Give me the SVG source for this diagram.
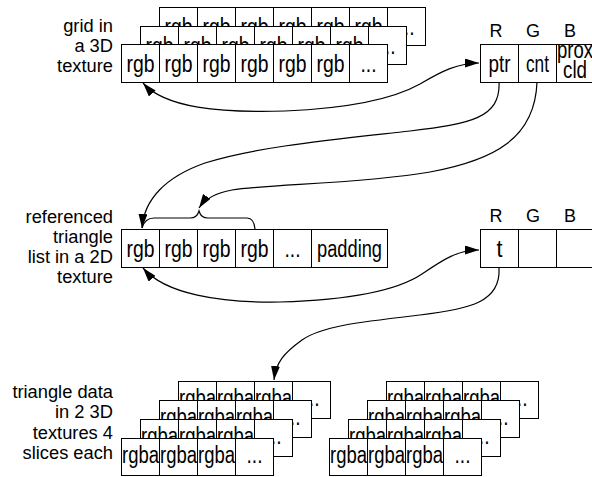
<svg xmlns="http://www.w3.org/2000/svg" width="592" height="477" viewBox="0 0 592 477">
<defs>
<style>
.c{fill:#fff;stroke:#000;stroke-width:1}
.t{font-family:"Liberation Sans",Arial,sans-serif;font-size:23px;fill:#000;text-anchor:middle}
.h{font-family:"Liberation Sans",Arial,sans-serif;font-size:18px;fill:#000;text-anchor:middle}
.l{font-family:"Liberation Sans",Arial,sans-serif;font-size:18.3px;fill:#000;text-anchor:end}
.k{fill:none;stroke:#000;stroke-width:1.2}
</style>
<marker id="ah" viewBox="0 0 14 9" refX="14" refY="4.5" markerWidth="14" markerHeight="9" markerUnits="userSpaceOnUse" orient="auto-start-reverse"><path d="M0,0 L14,4.5 L0,9 z" fill="#000"/></marker>
</defs>
<rect width="592" height="477" fill="#fff"/>

<g id="label-grid">
<text class="l" x="113" y="32">grid in</text>
<text class="l" x="113" y="52">a 3D</text>
<text class="l" x="113" y="72">texture</text>
</g>

<g id="grid-3d">
<g>
<rect class="c" x="159.5" y="7.5" width="38" height="38"/><rect class="c" x="197.5" y="7.5" width="38" height="38"/><rect class="c" x="235.5" y="7.5" width="38" height="38"/><rect class="c" x="273.5" y="7.5" width="38" height="38"/><rect class="c" x="311.5" y="7.5" width="38" height="38"/><rect class="c" x="349.5" y="7.5" width="38" height="38"/><rect class="c" x="387.5" y="7.5" width="38" height="38"/>
<text class="t" x="178.5" y="35" textLength="28" lengthAdjust="spacingAndGlyphs">rgb</text><text class="t" x="216.5" y="35" textLength="28" lengthAdjust="spacingAndGlyphs">rgb</text><text class="t" x="254.5" y="35" textLength="28" lengthAdjust="spacingAndGlyphs">rgb</text><text class="t" x="292.5" y="35" textLength="28" lengthAdjust="spacingAndGlyphs">rgb</text><text class="t" x="330.5" y="35" textLength="28" lengthAdjust="spacingAndGlyphs">rgb</text><text class="t" x="368.5" y="35" textLength="28" lengthAdjust="spacingAndGlyphs">rgb</text><text class="t" x="406.5" y="35" textLength="16" lengthAdjust="spacingAndGlyphs">...</text>
</g>
<g>
<rect class="c" x="140.5" y="26.5" width="38" height="38"/><rect class="c" x="178.5" y="26.5" width="38" height="38"/><rect class="c" x="216.5" y="26.5" width="38" height="38"/><rect class="c" x="254.5" y="26.5" width="38" height="38"/><rect class="c" x="292.5" y="26.5" width="38" height="38"/><rect class="c" x="330.5" y="26.5" width="38" height="38"/><rect class="c" x="368.5" y="26.5" width="38" height="38"/>
<text class="t" x="159.5" y="54" textLength="28" lengthAdjust="spacingAndGlyphs">rgb</text><text class="t" x="197.5" y="54" textLength="28" lengthAdjust="spacingAndGlyphs">rgb</text><text class="t" x="235.5" y="54" textLength="28" lengthAdjust="spacingAndGlyphs">rgb</text><text class="t" x="273.5" y="54" textLength="28" lengthAdjust="spacingAndGlyphs">rgb</text><text class="t" x="311.5" y="54" textLength="28" lengthAdjust="spacingAndGlyphs">rgb</text><text class="t" x="349.5" y="54" textLength="28" lengthAdjust="spacingAndGlyphs">rgb</text><text class="t" x="387.5" y="54" textLength="16" lengthAdjust="spacingAndGlyphs">...</text>
</g>
<g>
<rect class="c" x="121.5" y="44.5" width="38" height="38"/><rect class="c" x="159.5" y="44.5" width="38" height="38"/><rect class="c" x="197.5" y="44.5" width="38" height="38"/><rect class="c" x="235.5" y="44.5" width="38" height="38"/><rect class="c" x="273.5" y="44.5" width="38" height="38"/><rect class="c" x="311.5" y="44.5" width="38" height="38"/><rect class="c" x="349.5" y="44.5" width="38" height="38"/>
<text class="t" x="140.5" y="72" textLength="28" lengthAdjust="spacingAndGlyphs">rgb</text><text class="t" x="178.5" y="72" textLength="28" lengthAdjust="spacingAndGlyphs">rgb</text><text class="t" x="216.5" y="72" textLength="28" lengthAdjust="spacingAndGlyphs">rgb</text><text class="t" x="254.5" y="72" textLength="28" lengthAdjust="spacingAndGlyphs">rgb</text><text class="t" x="292.5" y="72" textLength="28" lengthAdjust="spacingAndGlyphs">rgb</text><text class="t" x="330.5" y="72" textLength="28" lengthAdjust="spacingAndGlyphs">rgb</text><text class="t" x="368.5" y="72" textLength="16" lengthAdjust="spacingAndGlyphs">...</text>
</g>
</g>

<g id="cell-table-1">
<text class="h" x="496" y="37">R</text><text class="h" x="533" y="37">G</text><text class="h" x="570" y="37">B</text>
<rect class="c" x="480.5" y="44.5" width="38" height="38"/><rect class="c" x="518.5" y="44.5" width="38" height="38"/><rect class="c" x="556.5" y="44.5" width="38" height="38"/>
<text class="t" x="499.5" y="72" textLength="22" lengthAdjust="spacingAndGlyphs">ptr</text><text class="t" x="537.5" y="72" textLength="23" lengthAdjust="spacingAndGlyphs">cnt</text>
<text class="t" x="575" y="58" textLength="36" lengthAdjust="spacingAndGlyphs">prox</text><text class="t" x="575" y="78" textLength="24" lengthAdjust="spacingAndGlyphs">cld</text>
</g>

<g id="label-list">
<text class="l" x="113" y="223">referenced</text>
<text class="l" x="113" y="243">triangle</text>
<text class="l" x="113" y="263">list in a 2D</text>
<text class="l" x="113" y="283">texture</text>
</g>

<g id="triangle-list">
<rect class="c" x="121.5" y="229.5" width="38" height="38"/><rect class="c" x="159.5" y="229.5" width="38" height="38"/><rect class="c" x="197.5" y="229.5" width="38" height="38"/><rect class="c" x="235.5" y="229.5" width="38" height="38"/><rect class="c" x="273.5" y="229.5" width="38" height="38"/><rect class="c" x="311.5" y="229.5" width="76" height="38"/>
<text class="t" x="140.5" y="257" textLength="28" lengthAdjust="spacingAndGlyphs">rgb</text><text class="t" x="178.5" y="257" textLength="28" lengthAdjust="spacingAndGlyphs">rgb</text><text class="t" x="216.5" y="257" textLength="28" lengthAdjust="spacingAndGlyphs">rgb</text><text class="t" x="254.5" y="257" textLength="28" lengthAdjust="spacingAndGlyphs">rgb</text><text class="t" x="292.5" y="257" textLength="16" lengthAdjust="spacingAndGlyphs">...</text><text class="t" x="349.5" y="257" textLength="65" lengthAdjust="spacingAndGlyphs">padding</text>
</g>

<g id="cell-table-2">
<text class="h" x="496" y="222">R</text><text class="h" x="533" y="222">G</text><text class="h" x="570" y="222">B</text>
<rect class="c" x="480.5" y="229.5" width="38" height="38"/><rect class="c" x="518.5" y="229.5" width="38" height="38"/><rect class="c" x="556.5" y="229.5" width="38" height="38"/>
<text class="t" x="499.5" y="257" textLength="6" lengthAdjust="spacingAndGlyphs">t</text>
</g>

<g id="label-data">
<text class="l" x="113" y="398">triangle data</text>
<text class="l" x="113" y="418">in 2 3D</text>
<text class="l" x="113" y="439">textures 4</text>
<text class="l" x="113" y="459">slices each</text>
</g>

<g id="stack-1">
<g>
<rect class="c" x="178.5" y="381.5" width="38" height="37"/><rect class="c" x="216.5" y="381.5" width="38" height="37"/><rect class="c" x="254.5" y="381.5" width="38" height="37"/><rect class="c" x="292.5" y="381.5" width="38" height="37"/>
<text class="t" x="197.5" y="406" textLength="37" lengthAdjust="spacingAndGlyphs">rgba</text><text class="t" x="235.5" y="406" textLength="37" lengthAdjust="spacingAndGlyphs">rgba</text><text class="t" x="273.5" y="406" textLength="37" lengthAdjust="spacingAndGlyphs">rgba</text><text class="t" x="311.5" y="406" textLength="16" lengthAdjust="spacingAndGlyphs">...</text>
</g>
<g>
<rect class="c" x="159.5" y="400.5" width="38" height="37"/><rect class="c" x="197.5" y="400.5" width="38" height="37"/><rect class="c" x="235.5" y="400.5" width="38" height="37"/><rect class="c" x="273.5" y="400.5" width="38" height="37"/>
<text class="t" x="178.5" y="425" textLength="37" lengthAdjust="spacingAndGlyphs">rgba</text><text class="t" x="216.5" y="425" textLength="37" lengthAdjust="spacingAndGlyphs">rgba</text><text class="t" x="254.5" y="425" textLength="37" lengthAdjust="spacingAndGlyphs">rgba</text><text class="t" x="292.5" y="425" textLength="16" lengthAdjust="spacingAndGlyphs">...</text>
</g>
<g>
<rect class="c" x="140.5" y="419.5" width="38" height="37"/><rect class="c" x="178.5" y="419.5" width="38" height="37"/><rect class="c" x="216.5" y="419.5" width="38" height="37"/><rect class="c" x="254.5" y="419.5" width="38" height="37"/>
<text class="t" x="159.5" y="444" textLength="37" lengthAdjust="spacingAndGlyphs">rgba</text><text class="t" x="197.5" y="444" textLength="37" lengthAdjust="spacingAndGlyphs">rgba</text><text class="t" x="235.5" y="444" textLength="37" lengthAdjust="spacingAndGlyphs">rgba</text><text class="t" x="273.5" y="444" textLength="16" lengthAdjust="spacingAndGlyphs">...</text>
</g>
<g>
<rect class="c" x="121.5" y="438.5" width="38" height="37"/><rect class="c" x="159.5" y="438.5" width="38" height="37"/><rect class="c" x="197.5" y="438.5" width="38" height="37"/><rect class="c" x="235.5" y="438.5" width="38" height="37"/>
<text class="t" x="140.5" y="462.5" textLength="37" lengthAdjust="spacingAndGlyphs">rgba</text><text class="t" x="178.5" y="462.5" textLength="37" lengthAdjust="spacingAndGlyphs">rgba</text><text class="t" x="216.5" y="462.5" textLength="37" lengthAdjust="spacingAndGlyphs">rgba</text><text class="t" x="254.5" y="462.5" textLength="16" lengthAdjust="spacingAndGlyphs">...</text>
</g>
</g>

<g id="stack-2">
<g>
<rect class="c" x="386.5" y="381.5" width="38" height="37"/><rect class="c" x="424.5" y="381.5" width="38" height="37"/><rect class="c" x="462.5" y="381.5" width="38" height="37"/><rect class="c" x="500.5" y="381.5" width="38" height="37"/>
<text class="t" x="405.5" y="406" textLength="37" lengthAdjust="spacingAndGlyphs">rgba</text><text class="t" x="443.5" y="406" textLength="37" lengthAdjust="spacingAndGlyphs">rgba</text><text class="t" x="481.5" y="406" textLength="37" lengthAdjust="spacingAndGlyphs">rgba</text><text class="t" x="519.5" y="406" textLength="16" lengthAdjust="spacingAndGlyphs">...</text>
</g>
<g>
<rect class="c" x="367.5" y="400.5" width="38" height="37"/><rect class="c" x="405.5" y="400.5" width="38" height="37"/><rect class="c" x="443.5" y="400.5" width="38" height="37"/><rect class="c" x="481.5" y="400.5" width="38" height="37"/>
<text class="t" x="386.5" y="425" textLength="37" lengthAdjust="spacingAndGlyphs">rgba</text><text class="t" x="424.5" y="425" textLength="37" lengthAdjust="spacingAndGlyphs">rgba</text><text class="t" x="462.5" y="425" textLength="37" lengthAdjust="spacingAndGlyphs">rgba</text><text class="t" x="500.5" y="425" textLength="16" lengthAdjust="spacingAndGlyphs">...</text>
</g>
<g>
<rect class="c" x="348.5" y="419.5" width="38" height="37"/><rect class="c" x="386.5" y="419.5" width="38" height="37"/><rect class="c" x="424.5" y="419.5" width="38" height="37"/><rect class="c" x="462.5" y="419.5" width="38" height="37"/>
<text class="t" x="367.5" y="444" textLength="37" lengthAdjust="spacingAndGlyphs">rgba</text><text class="t" x="405.5" y="444" textLength="37" lengthAdjust="spacingAndGlyphs">rgba</text><text class="t" x="443.5" y="444" textLength="37" lengthAdjust="spacingAndGlyphs">rgba</text><text class="t" x="481.5" y="444" textLength="16" lengthAdjust="spacingAndGlyphs">...</text>
</g>
<g>
<rect class="c" x="329.5" y="438.5" width="38" height="37"/><rect class="c" x="367.5" y="438.5" width="38" height="37"/><rect class="c" x="405.5" y="438.5" width="38" height="37"/><rect class="c" x="443.5" y="438.5" width="38" height="37"/>
<text class="t" x="348.5" y="462.5" textLength="37" lengthAdjust="spacingAndGlyphs">rgba</text><text class="t" x="386.5" y="462.5" textLength="37" lengthAdjust="spacingAndGlyphs">rgba</text><text class="t" x="424.5" y="462.5" textLength="37" lengthAdjust="spacingAndGlyphs">rgba</text><text class="t" x="462.5" y="462.5" textLength="16" lengthAdjust="spacingAndGlyphs">...</text>
</g>
</g>

<g id="connectors">
<path class="k" d="M143,83 C165,108 220,113 285,111 C355,108 395,98 420,84 C442,71 458,63 479,63" marker-start="url(#ah)" marker-end="url(#ah)"/>
<path class="k" d="M499,82 C501,118 470,124 410,131 C330,140 255,147 205,163 C165,177 144,200 142,228" marker-end="url(#ah)"/>
<path class="k" d="M537,82 C535,138 495,160 430,172 C360,184 270,184 232,190 C215,193 205,199 199,208" marker-end="url(#ah)"/>
<path class="k" d="M142,228 Q145,218 154,218 L190,218 Q197,218 199,211 Q201,218 208,218 L247,218 Q254,218 255,229"/>
<path class="k" d="M143,268 C165,294 220,303 280,302 C350,300 398,290 422,274 C444,259 458,250 479,250" marker-start="url(#ah)" marker-end="url(#ah)"/>
<path class="k" d="M499,268 C501,302 470,309 420,315 C360,322 322,326 302,340 C284,353 276,362 274,380" marker-end="url(#ah)"/>
</g>
</svg>
